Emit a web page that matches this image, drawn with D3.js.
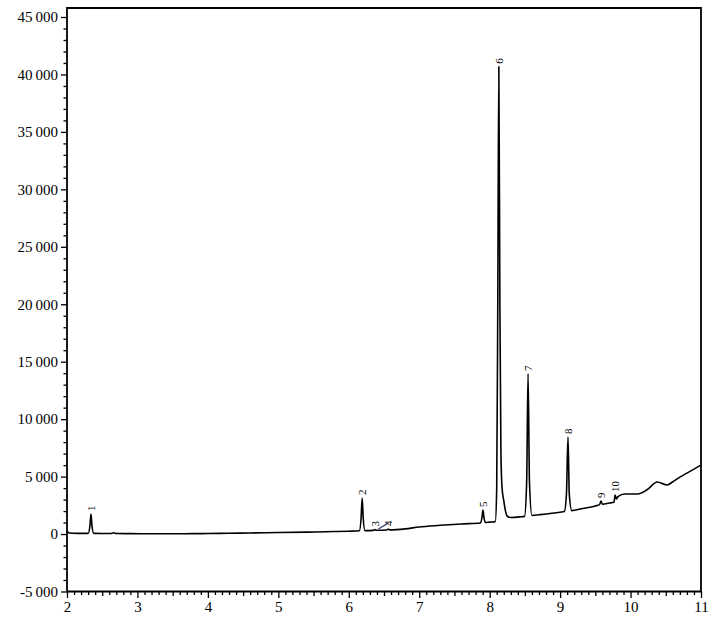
<!DOCTYPE html>
<html>
<head>
<meta charset="utf-8">
<script src="https://cdn.jsdelivr.net/npm/d3@7/dist/d3.min.js"></script>
<style>
  html, body { margin: 0; padding: 0; background: #fff; }
  svg { display: block; }
  .axis text { font-family: "Liberation Serif", "Times New Roman", serif; font-size: 15px; fill: #000; }
  .axis line { stroke: #000; stroke-width: 1.3px; }
  .axis path { display: none; }
</style>
</head>
<body>
<svg id="chart" width="720" height="621"></svg>
<script>
// ---- data ----
const traceTime = [
  2.00, 2.01, 2.04, 2.15, 2.30, 2.325, 2.34, 2.355, 2.38,
  2.50, 2.62, 2.66, 2.70, 2.90, 3.20, 3.50, 3.80, 4.00, 4.30, 4.60, 5.00, 5.40, 5.80, 6.00,
  6.15, 6.175, 6.19, 6.205, 6.23,
  6.35, 6.37, 6.39, 6.54, 6.56, 6.58, 6.80, 7.00, 7.30, 7.60,
  7.87, 7.89, 7.905, 7.92, 7.94, 8.00,
  8.08, 8.10, 8.115, 8.13, 8.145, 8.16, 8.175, 8.20, 8.225, 8.25, 8.30, 8.45,
  8.495, 8.525, 8.545, 8.565, 8.60, 8.70, 9.00,
  9.06, 9.09, 9.112, 9.13, 9.165, 9.30, 9.50,
  9.56, 9.58, 9.60, 9.70, 9.765, 9.78, 9.80, 9.82, 9.92, 10.10, 10.23, 10.38, 10.52,
  10.60, 10.70, 10.80, 10.90, 11.00
];
const traceSignal = [
  300, 180, 90, 60, 55, 700, 1740, 700, 55,
  45, 50, 110, 50, 35, 30, 30, 35, 45, 70, 95, 130, 170, 220, 250,
  285, 1400, 3140, 1400, 300,
  320, 400, 330, 350, 440, 365, 450, 620, 760, 880,
  960, 1400, 2090, 1400, 1000, 1040,
  1080, 4000, 20000, 40680, 20000, 7000, 4100, 2900, 2000, 1550, 1440, 1510,
  1540, 4500, 13940, 4500, 1620, 1680, 1900,
  1960, 3500, 8450, 3500, 2040, 2200, 2450,
  2560, 2870, 2600, 2700, 2760, 3400, 3050, 3250, 3480, 3480, 3830, 4530, 4270,
  4550, 4960, 5300, 5650, 6010
];
const peakLabels = ["1", "2", "3", "4", "5", "6", "7", "8", "9", "10"];
const peakTimes  = [2.34, 6.19, 6.37, 6.56, 7.905, 8.13, 8.545, 9.112, 9.58, 9.78];
const peakHeights = [1740, 3140, 400, 440, 2090, 40680, 13940, 8450, 2870, 3400];
const pointerTime = [6.42, 6.56];
const pointerSignal = [430, 950];
const yMajorTicks = [-5000, 0, 5000, 10000, 15000, 20000, 25000, 30000, 35000, 40000, 45000];
const xMajorTicks = [2, 3, 4, 5, 6, 7, 8, 9, 10, 11];

// ---- layout ----
const svg = d3.select("#chart");
const left = 67, right = 701, frameTop = 8;
const x = d3.scaleLinear().domain([2, 11]).range([left, right]);
const y = d3.scaleLinear().domain([-5000, 45000]).range([591.5, 17]);
const bottom = y(-5000);

const loc = d3.formatLocale({decimal: ".", thousands: "\u2009", grouping: [3], currency: ["", ""], minus: "-"});
const fmt = loc.format(",d");

// y minor ticks
const yMinor = d3.range(-5000, 45001, 1000).filter(v => v % 5000 !== 0);
svg.append("g").attr("class", "axis").attr("transform", `translate(${left},0)`)
  .call(d3.axisLeft(y).tickValues(yMinor).tickSize(3.5).tickFormat(""));
svg.append("g").attr("class", "axis").attr("transform", `translate(${left},0)`)
  .call(d3.axisLeft(y).tickValues(yMajorTicks).tickSize(6).tickPadding(3).tickFormat(fmt));

// x minor ticks
const xMinor = d3.range(20, 111).map(v => v / 10).filter(v => Math.abs(v - Math.round(v)) > 1e-6);
const xHalf = xMinor.filter(v => Math.abs((v * 10) % 10 - 5) < 1e-6);
const xTenth = xMinor.filter(v => !xHalf.includes(v));
svg.append("g").attr("class", "axis").attr("transform", `translate(0,${bottom})`)
  .call(d3.axisBottom(x).tickValues(xTenth).tickSize(3.5).tickFormat(""));
svg.append("g").attr("class", "axis").attr("transform", `translate(0,${bottom})`)
  .call(d3.axisBottom(x).tickValues(xHalf).tickSize(4.5).tickFormat(""));
svg.append("g").attr("class", "axis").attr("transform", `translate(0,${bottom})`)
  .call(d3.axisBottom(x).tickValues(xMajorTicks).tickSize(6.5).tickPadding(3).tickFormat(d3.format("d")));

// frame
svg.append("path")
  .attr("d", `M${left},${bottom}V${frameTop}H${right}V${bottom}H${left}`)
  .attr("fill", "none").attr("stroke", "#000").attr("stroke-width", 1.8);

// trace
const pts = traceTime.map((t, i) => [t, traceSignal[i]]);
const line = d3.line().x(d => x(d[0])).y(d => y(d[1])).curve(d3.curveMonotoneX);
svg.append("path").datum(pts)
  .attr("d", line)
  .attr("fill", "none").attr("stroke", "#000").attr("stroke-width", 1.6)
  .attr("stroke-linejoin", "round");

// pointer stroke near peaks 3/4
svg.append("line")
  .attr("x1", x(pointerTime[0])).attr("y1", y(pointerSignal[0]))
  .attr("x2", x(pointerTime[1])).attr("y2", y(pointerSignal[1]))
  .attr("stroke", "#2e3f7a").attr("stroke-width", 1.2);

// peak labels (rotated)
svg.append("g").selectAll("text").data(peakLabels).join("text")
  .attr("transform", (d, i) => `translate(${x(peakTimes[i])},${y(peakHeights[i]) - 3}) rotate(-90)`)
  .attr("dy", "0.35em")
  .attr("text-anchor", "start")
  .style("font-family", "\"Liberation Serif\", serif")
  .style("font-size", "11px")
  .text(d => d);
</script>
</body>
</html>
